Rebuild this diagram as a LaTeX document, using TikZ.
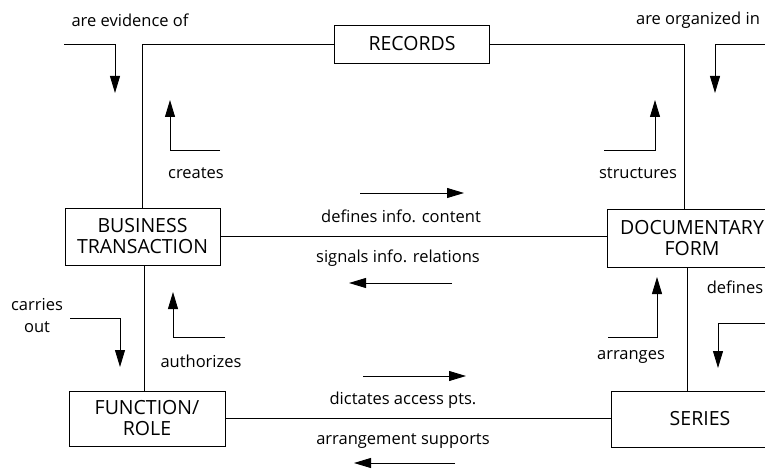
\documentclass[tikz,border=0pt]{standalone}
\usepackage{fontspec}
\setmainfont{Open Sans}
\usetikzlibrary{positioning, arrows.meta}

\begin{document}
\begin{tikzpicture}[x=1pt, y=-1pt, line width=0.9pt,
		entity/.style={draw, fill=white, align=center, font=\fontsize{19.5}{21}\selectfont, inner sep=2pt},
		lbl/.style={align=center, font=\fontsize{16.5}{22}\selectfont},
		flow/.style={-{Triangle[length=17pt, width=10pt]}}]
		% --- Frame ---
		\useasboundingbox (0,0) rectangle (765,470);
		
		% --- Entities ---
		\node[entity, minimum width=155pt, minimum height=38pt] (records) at (412,44) {RECORDS};
		\node[entity, minimum width=155pt, minimum height=57pt] (trans) at (142.5,236.5) {BUSINESS\\TRANSACTION};
		\node[entity, minimum width=170pt, minimum height=58pt] (form) at (692,238) {DOCUMENTARY\\FORM};
		\node[entity, minimum width=156pt, minimum height=55pt] (role) at (147,418.5) {FUNCTION/\\ROLE};
		\node[entity, minimum width=178pt, minimum height=56pt] (series) at (700,419) {SERIES};
		
		% --- Links ---
		\draw (records.west) -| (trans.north);
		\draw (records.east) -| ([xshift=-8pt]form.north);
		\draw (trans.east) -- (trans.east -| form.west);
		\draw ([xshift=2pt]trans.south) -- ([xshift=2pt]trans.south |- role.north);
		\draw ([xshift=-5pt]form.south) -- ([xshift=-5pt]form.south |- series.north);
		\draw (role.east) -- (role.east -| series.west);
		
		% --- Relation labels ---
		\node[lbl] (evid) at (130,20) {are evidence of};
		\node[lbl] (organ) at (698,20) {are organized in};
		\node[lbl] (creat) at (196,173) {creates};
		\node[lbl] (struc) at (638,173) {structures};
		\node[lbl] (content) at (401,216) {defines info. content};
		\node[lbl] (signal) at (398,258) {signals info. relations};
		\node[lbl] (carry) at (37,316) {carries\\out};
		\node[lbl] (auth) at (201,361) {authorizes};
		\node[lbl] (arrng) at (631,357) {arranges};
		\node[lbl, anchor=west] (defin) at (703,287) {defines};
		\node[lbl] (access) at (403,400) {dictates access pts.};
		\node[lbl] (support) at (403,441) {arrangement supports};
		
		% --- Direction arrows ---
		\coordinate (evS) at (64,44);    \coordinate (evE) at (115,93);
		\coordinate (crS) at (220,150);  \coordinate (crE) at (170,100);
		\coordinate (orS) at (765,44);   \coordinate (orE) at (715,93);
		\coordinate (stS) at (604,150);  \coordinate (stE) at (655,100);
		\coordinate (caS) at (70,318);   \coordinate (caE) at (120,367);
		\coordinate (auS) at (225,337);  \coordinate (auE) at (173,292);
		\coordinate (arS) at (608,337);  \coordinate (arE) at (657,277);
		\coordinate (deS) at (765,323);  \coordinate (deE) at (718,368);
		\draw[flow] (evS) -| (evE);
		\draw[flow] (crS) -| (crE);
		\draw[flow] (orS) -| (orE);
		\draw[flow] (stS) -| (stE);
		\draw[flow] (caS) -| (caE);
		\draw[flow] (auS) -| (auE);
		\draw[flow] (arS) -| (arE);
		\draw[flow] (deS) -| (deE);
		
		\coordinate (coS) at (360,193);  \coordinate (coE) at (464,193);
		\coordinate (siS) at (452,283);  \coordinate (siE) at (349,283);
		\coordinate (acS) at (363,376);  \coordinate (acE) at (466,376);
		\coordinate (suS) at (455,463);  \coordinate (suE) at (354,463);
		\draw[flow] (coS) -- (coE);
		\draw[flow] (siS) -- (siE);
		\draw[flow] (acS) -- (acE);
		\draw[flow] (suS) -- (suE);
		
	\end{tikzpicture}
\end{document}
